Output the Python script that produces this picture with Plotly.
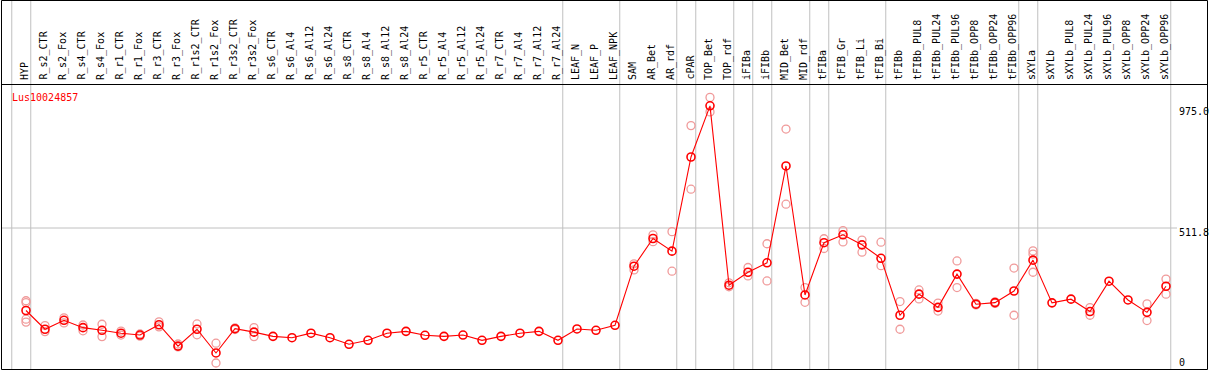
import plotly.graph_objects as go

categories = ["HYP", "R_s2_CTR", "R_s2_Fox", "R_s4_CTR", "R_s4_Fox", "R_r1_CTR", "R_r1_Fox",
              "R_r3_CTR", "R_r3_Fox", "R_r1s2_CTR", "R_r1s2_Fox", "R_r3s2_CTR", "R_r3s2_Fox",
              "R_s6_CTR", "R_s6_Al4", "R_s6_Al12", "R_s6_Al24", "R_s8_CTR", "R_s8_Al4", "R_s8_Al12",
              "R_s8_Al24", "R_r5_CTR", "R_r5_Al4", "R_r5_Al12", "R_r5_Al24", "R_r7_CTR", "R_r7_Al4",
              "R_r7_Al12", "R_r7_Al24", "LEAF_N", "LEAF_P", "LEAF_NPK", "SAM", "AR_Bet", "AR_rdf",
              "cPAR", "TOP_Bet", "TOP_rdf", "iFIBa", "iFIBb", "MID_Bet", "MID_rdf", "tFIBa",
              "tFIB_Gr", "tFIB_Li", "tFIB_Bi", "tFIBb", "tFIBb_PUL8", "tFIBb_PUL24", "tFIBb_PUL96",
              "tFIBb_OPP8", "tFIBb_OPP24", "tFIBb_OPP96", "sXYLa", "sXYLb", "sXYLb_PUL8",
              "sXYLb_PUL24", "sXYLb_PUL96", "sXYLb_OPP8", "sXYLb_OPP24", "sXYLb_OPP96"]

means = [199, 128, 162, 134, 124, 113, 106, 145, 64, 128, 38, 130, 117,
         101, 96, 113, 96, 71, 86, 113, 120, 105, 101, 106, 86, 101, 113, 120, 86,
         129, 124, 143, 367, 472, 424, 781, 975, 295, 344, 380, 747, 258,
         456, 486, 448, 397, 181, 261, 211, 337, 223, 229, 273,
         390, 228, 242, 195, 310, 239, 192, 291]

replicates = [[236, 229, 166, 155], [142, 119], [171, 152], [144, 122], [147, 100], [121, 106],
              [110, 102], [156, 137], [72, 61], [148, 107], [75, 0], [133, 127], [134, 100],
              [], [], [], [], [], [], [], [], [], [], [], [], [], [], [], [],
              [], [], [], [376, 353], [486, 460], [498, 348], [900, 659], [1007, 952],
              [304, 289], [362, 330], [452, 311], [887, 602], [286, 230], [471, 434],
              [502, 459], [466, 420], [458, 369], [233, 128], [277, 243], [227, 197],
              [387, 286], [226, 220], [232, 226], [360, 181], [425, 413, 344], [], [],
              [210, 181], [], [], [224, 161], [318, 261]]

# group boundaries: a separator follows each of these category indices
group_ends = [-1, 0, 28, 31, 34, 35, 37, 38, 39, 41, 42, 45, 52, 53, 60]

gene = "Lus10024857"
tick_values = [975.0, 511.8, 0]
tick_labels = ["975.0", "511.8", "0"]

W, H = 1209, 370
FONT = "DejaVu Sans Mono"

def py(p):
    return 1 - p / H

def px(p):
    return p / W

xs = list(range(len(categories)))
rep_x, rep_y = [], []
for i, reps in enumerate(replicates):
    for r in reps:
        rep_x.append(i)
        rep_y.append(r)

fig = go.Figure()
fig.add_trace(go.Scatter(x=rep_x, y=rep_y, mode="markers",
                         marker=dict(symbol="circle-open", size=8, color="#f09a9a",
                                     line=dict(width=1.3, color="#f09a9a")),
                         hoverinfo="skip", showlegend=False))
fig.add_trace(go.Scatter(x=xs, y=means, mode="lines",
                         line=dict(color="#ff0000", width=1.1), showlegend=False))
fig.add_trace(go.Scatter(x=xs, y=means, mode="markers",
                         marker=dict(symbol="circle-open", size=8, color="#ff0000",
                                     line=dict(width=1.6, color="#ff0000")),
                         showlegend=False))

shapes = []
for g in group_ends:
    shapes.append(dict(type="line", xref="x", yref="paper", x0=g + 0.25, x1=g + 0.25,
                       y0=0, y1=1, line=dict(color="#c0c0c0", width=1), layer="below"))
shapes.append(dict(type="line", xref="paper", yref="y", x0=px(1), x1=px(1177),
                   y0=tick_values[1], y1=tick_values[1],
                   line=dict(color="#c0c0c0", width=1), layer="below"))
shapes.append(dict(type="line", xref="paper", yref="paper", x0=px(1), x1=px(1208),
                   y0=py(84.5), y1=py(84.5), line=dict(color="#000000", width=1)))
shapes.append(dict(type="rect", xref="paper", yref="paper", x0=px(1.5), x1=px(1207.5),
                   y0=py(369.5), y1=py(0.5), line=dict(color="#000000", width=1)))

annotations = []
for i, c in enumerate(categories):
    annotations.append(dict(x=i, xref="x", y=py(82), yref="paper", text=c, textangle=-90,
                            xanchor="center", yanchor="bottom", xshift=-1, showarrow=False,
                            font=dict(family=FONT, size=10, color="#000000")))
annotations.append(dict(x=px(10), xref="paper", y=py(97), yref="paper", text=gene,
                        xanchor="left", yanchor="middle", showarrow=False,
                        font=dict(family=FONT, size=10, color="#ff0000")))
label_y = [111.5, 232, 362]
for t, ly in zip(tick_labels, label_y):
    annotations.append(dict(x=px(1177), xref="paper", y=py(ly), yref="paper", text=t,
                            xanchor="left", yanchor="middle", showarrow=False,
                            font=dict(family=FONT, size=10, color="#000000")))

sx = 19.0
sy = 135.0 / 511.8
fig.update_layout(
    width=W, height=H, autosize=False,
    margin=dict(l=0, r=0, t=0, b=0, pad=0),
    paper_bgcolor="#ffffff", plot_bgcolor="#ffffff",
    xaxis=dict(range=[-26 / sx, (W - 26) / sx], visible=False, fixedrange=True),
    yaxis=dict(range=[(363 - H) / sy, 363 / sy], visible=False, fixedrange=True),
    shapes=shapes, annotations=annotations, showlegend=False,
)

fig.write_html("out.html", config={"displayModeBar": False},
               post_script="document.body.style.margin='0';document.body.style.overflow='hidden';")
